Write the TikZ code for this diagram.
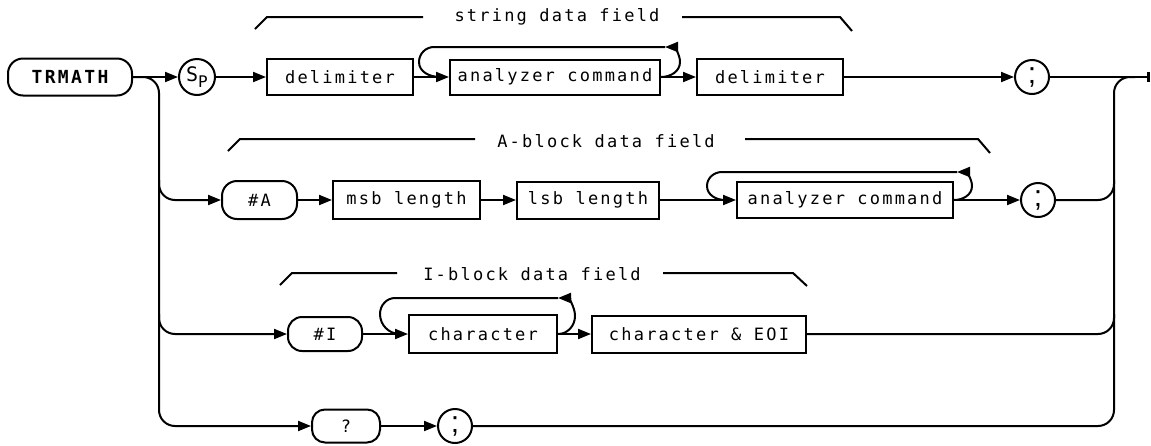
\documentclass[tikz,border=0pt]{standalone}
\usepackage{fontspec}
\usetikzlibrary{arrows.meta}
\newfontfamily\plotfont[LetterSpace=13]{DejaVu Sans Mono}
\newfontfamily\semifont{Liberation Sans}
\begin{document}
\begin{tikzpicture}[x=1pt,y=-1pt, line width=2pt,
  every node/.style={font={\plotfont\fontsize{17}{20}\selectfont}},
  arr/.style={-{Triangle[length=13pt,width=10pt]}},
  box/.style={draw, rectangle, inner sep=0pt, minimum height=37pt},
  pill/.style={draw, rectangle, rounded corners=15pt, inner sep=0pt, minimum height=37pt},
  term/.style={draw, circle, inner sep=0pt, minimum size=34pt},
  semi/.style={term, font={\semifont\fontsize{30}{30}\selectfont}},
  lbl/.style={inner sep=0pt},
  bus/.style={rounded corners=16pt}
]
\useasboundingbox (0,0) rectangle (1151,445);

% ---------- row 1 ----------
\node[pill, minimum width=124pt, font={\plotfont\bfseries\fontsize{18}{20}\selectfont}] (trmath) at (70,77) {TRMATH};
\node[term, minimum size=36pt, font={\plotfont\fontsize{20}{20}\selectfont}] (sp) at (197,77) {S\raisebox{-6pt}{\fontsize{16}{16}\selectfont P}};
\node[box, minimum width=146pt, minimum height=36pt] (d1) at (340,77) {delimiter};
\node[box, minimum width=210pt, minimum height=35pt] (ac1) at (555,77) {analyzer command};
\node[box, minimum width=146pt, minimum height=36pt] (d2) at (770,77) {delimiter};
\node[semi] (s1) at (1032,77) {;};
\coordinate (endpt) at (1150,77);
\coordinate (rb) at (1114,77);
\coordinate (rbend) at (1135,77);

\draw[arr] (trmath) -- (sp);
\draw[arr] (sp) -- (d1);
\draw[arr] (d1) -- (ac1);
\draw[arr] (ac1) -- (d2);
\draw[arr] (d2) -- (s1);
\draw[-{Bar[width=10pt,line width=3pt]}] (s1) -- (endpt);
% loop 1
\draw[arr] (ac1.east) to[out=0,in=-90] (680,62) to[out=90,in=0] (665,47);
\draw (665,47) -- (434,47) to[out=180,in=90] (419,62) to[out=-90,in=180] (440,77);

% bracket string
\node[lbl] (tstr) at (557,17) {string data field};
\draw (255,29) -- (267,17) -- (423,17);
\draw (682,17) -- (840,17) -- (852,31);

% ---------- row 2 ----------
\node[pill, minimum width=75pt, minimum height=38pt] (ha) at (259.5,200) {\#A};
\node[box, minimum width=147pt, minimum height=38pt] (msb) at (406.5,200) {msb length};
\node[box, minimum width=142pt] (lsb) at (588,200) {lsb length};
\node[box, minimum width=216pt, minimum height=36pt] (ac2) at (845,200) {analyzer command};
\node[semi] (s2) at (1038,200) {;};

\draw[arr] (ha) -- (msb);
\draw[arr] (msb) -- (lsb);
\draw[arr] (lsb) -- (ac2);
\draw[arr] (ac2) -- (s2);
\draw[arr] (ac2.east) to[out=0,in=-90] (972,186) to[out=90,in=0] (957,172);
\draw (957,172) -- (722,172) to[out=180,in=90] (707,186) to[out=-90,in=180] (725,200);

\node[lbl] (tab) at (606,141) {A-block data field};
\draw (228,151) -- (240,139) -- (475,139);
\draw (745,139) -- (978,139) -- (990,153);

% ---------- row 3 ----------
\node[pill, minimum width=74pt, minimum height=34pt, rounded corners=14pt] (hi) at (325,334) {\#I};
\node[box, minimum width=148pt, minimum height=38pt] (ch) at (483,334) {character};
\node[box, minimum width=214pt] (che) at (699,334) {character \& EOI};

\draw[arr] (hi) -- (ch);
\draw[arr] (ch) -- (che);
\draw[arr] (ch.east) to[out=0,in=-90] (575,316) to[out=90,in=0] (558,298);
\draw (558,298) -- (395,298) to[out=180,in=90] (380,314) to[out=-90,in=180] (400,334);

\node[lbl] (tib) at (532,274) {I-block data field};
\draw (280,285) -- (292,273) -- (397,273);
\draw (663,273) -- (793,273) -- (807,286);

% ---------- row 4 ----------
\node[pill, minimum width=68pt, minimum height=33pt, rounded corners=13pt] (q) at (346,426) {?};
\node[semi] (s4) at (455,426) {;};
\draw[arr] (q) -- (s4);

% ---------- buses ----------
\draw[arr, bus] (trmath.east) -| (159,426) -- (q);
\draw[arr, bus] (159,180) |- (ha);
\draw[arr, bus] (159,314) |- (hi);
\draw[bus] (s4) -| (rb) -- (rbend);
\draw[bus] (s2) -| (1114,180);
\draw[bus] (che) -| (1114,314);
\end{tikzpicture}
\end{document}
